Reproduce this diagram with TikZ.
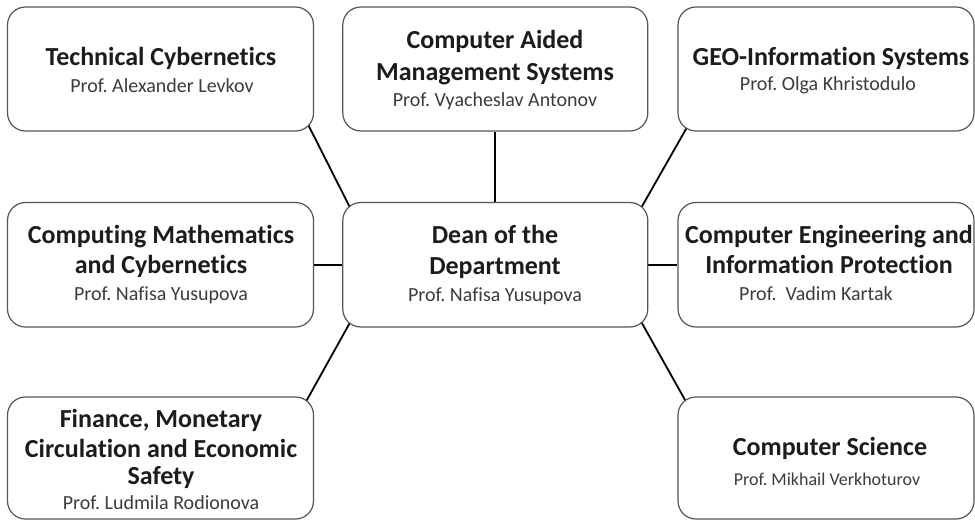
\documentclass[tikz,border=0pt]{standalone}
\usepackage{fontspec}
\setmainfont{Carlito}[Ligatures=NoCommon]
\usetikzlibrary{calc,backgrounds}
\definecolor{boxline}{RGB}{85,85,85}
\definecolor{titlecol}{RGB}{28,28,28}
\definecolor{subcol}{RGB}{60,60,60}
\tikzset{
  unitbox/.style={draw=boxline, line width=1.2pt, fill=white, rounded corners=18pt, inner sep=0pt},
  leftcol/.style={unitbox, minimum width=306pt},
  midcol/.style={unitbox, minimum width=305pt},
  rightcol/.style={unitbox, minimum width=296pt},
  toprow/.style={minimum height=124pt},
  midrow/.style={minimum height=124.5pt},
  botrow/.style={minimum height=122pt},
  ttl/.style={anchor=base, inner sep=0pt, text=titlecol, font=\fontsize{26}{30}\selectfont\bfseries},
  sub/.style={anchor=base, inner sep=0pt, text=subcol, font=\fontsize{20}{24}\selectfont},
  subsmall/.style={anchor=base, inner sep=0pt, text=subcol, font=\fontsize{18}{21}\selectfont},
  link/.style={line width=1.8pt, black}
}
\frenchspacing
\begin{document}
\begin{tikzpicture}[x=1pt,y=-1pt]
\useasboundingbox (0,0) rectangle (975,520);
% boxes
\node[leftcol,toprow]  (tc)   at (160.5,69) {};
\node[midcol,toprow]   (cams) at (495.3,69) {};
\node[rightcol,toprow] (geo)  at (826,69) {};
\node[leftcol,midrow]  (cmc)  at (160.5,264.75) {};
\node[midcol,midrow]   (dean) at (495.3,264.75) {};
\node[rightcol,midrow] (ceip) at (826,264.75) {};
\node[leftcol,botrow]  (fin)  at (160.5,458) {};
\node[rightcol,botrow] (cs)   at (826,458) {};
% connectors
\begin{pgfonlayer}{background}
\fill[white] (0,0) rectangle (975,520);
\draw[link] ($(tc.south east)+(-7,-9)$) -- ($(dean.north west)+(9,8)$);
\draw[link] (cams.south) -- (dean.north);
\draw[link] ($(geo.south west)+(10,-5)$) -- ($(dean.north east)+(-9,9)$);
\draw[link] (cmc.east) -- (dean.west);
\draw[link] (ceip.west) -- (dean.east);
\draw[link] ($(fin.north east)+(-8,5)$) -- ($(dean.south west)+(10,-9)$);
\draw[link] ($(cs.north west)+(9,6)$) -- ($(dean.south east)+(-9,-9)$);
\end{pgfonlayer}
% texts
\node[ttl] (tc1) at (161,65) {Technical Cybernetics};
\node[sub] (tc2) at (162,92) {Prof. Alexander Levkov};
\node[ttl] (cams1) at (495,48) {Computer Aided};
\node[ttl] (cams2) at (495,80) {Management Systems};
\node[sub] (cams3) at (495,106) {Prof. Vyacheslav Antonov};
\node[ttl] (geo1) at (831,65) {GEO-Information Systems};
\node[sub] (geo2) at (828,90) {Prof. Olga Khristodulo};
\node[ttl] (cmc1) at (161,243) {Computing Mathematics};
\node[ttl] (cmc2) at (161,273) {and Cybernetics};
\node[sub] (cmc3) at (161,300) {Prof. Nafisa Yusupova};
\node[ttl] (dean1) at (495,243) {Dean of the};
\node[ttl] (dean2) at (495,274) {Department};
\node[sub] (dean3) at (495,301) {Prof. Nafisa Yusupova};
\node[ttl] (ceip1) at (829,243) {Computer Engineering and};
\node[ttl] (ceip2) at (829,273) {Information Protection};
\node[sub] (ceip3) at (816,300) {Prof.\ \ Vadim Kartak};
\node[ttl] (fin1) at (161,427) {Finance, Monetary};
\node[ttl] (fin2) at (161,457) {Circulation and Economic};
\node[ttl] (fin3) at (161,484) {Safety};
\node[sub] (fin4) at (161,509) {Prof. Ludmila Rodionova};
\node[ttl] (cs1) at (830,455) {Computer Science};
\node[subsmall] (cs2) at (827,485) {Prof. Mikhail Verkhoturov};
\end{tikzpicture}
\end{document}
